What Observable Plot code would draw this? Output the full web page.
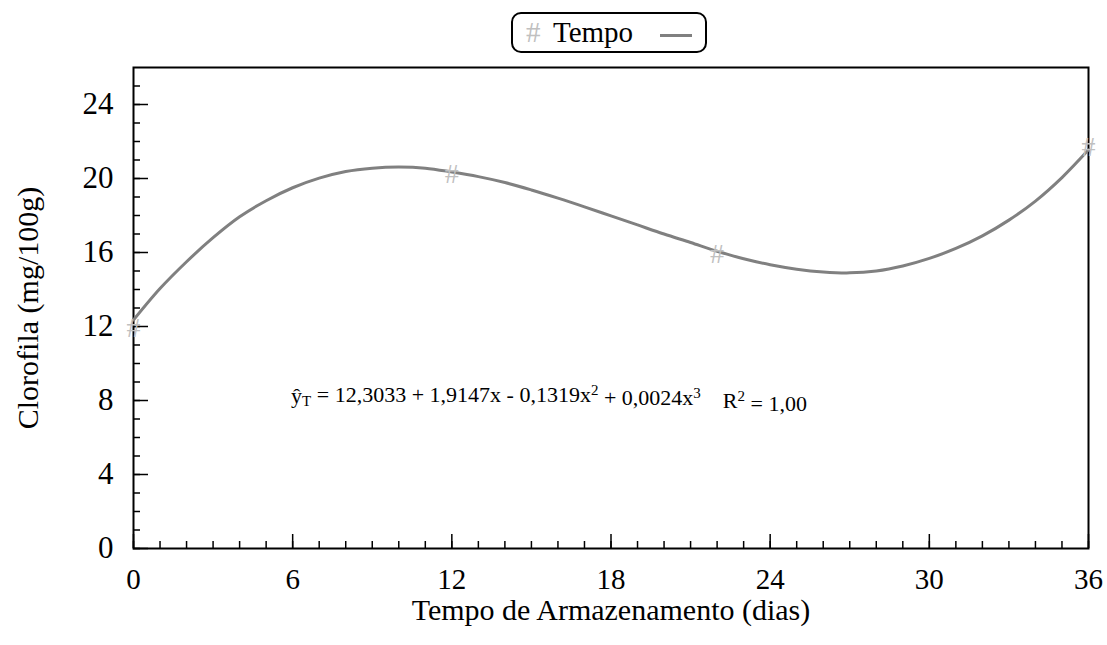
<!DOCTYPE html>
<html>
<head>
<meta charset="utf-8">
<script src="https://cdn.jsdelivr.net/npm/d3@7"></script>
<script src="https://cdn.jsdelivr.net/npm/@observablehq/plot@0.6"></script>
<style>
  html, body { margin: 0; padding: 0; background: #fff; }
  #wrap { position: relative; width: 1107px; height: 645px; font-family: "Liberation Serif", "Times New Roman", serif; }
  #legend {
    position: absolute; left: 511px; top: 12px; width: 192px; height: 37px;
    border: 2px solid #000; border-radius: 10px; box-sizing: content-box;
    font-size: 29px; line-height: 37px; white-space: nowrap;
  }
  #legend .sym { position: absolute; left: 13px; top: 0; color: #c0c0c0; }
  #legend .lbl { position: absolute; left: 40px; top: 0; color: #000; }
  #legend .ln { position: absolute; left: 147px; top: 20px; width: 32px; height: 3px; background: #808080; }
  .eq text { white-space: pre; }
</style>
</head>
<body>
<div id="wrap">
  <div id="chart"></div>
  <div id="legend"><span class="sym">#</span><span class="lbl">Tempo</span><span class="ln"></span></div>
</div>
<script>
// Storage time (days) and the fitted chlorophyll curve, mg/100g
const dias = [0,1,2,3,4,5,6,7,8,9,10,11,12,13,14,15,16,17,18,19,20,21,22,23,24,25,26,27,28,29,30,31,32,33,34,35,36];
const clorofilaAjuste = [12.35,14.05,15.5,16.8,17.93,18.8,19.5,20.02,20.38,20.56,20.62,20.56,20.35,20.1,19.78,19.38,18.94,18.47,17.98,17.49,17.0,16.54,16.07,15.66,15.34,15.1,14.95,14.9,15.0,15.27,15.68,16.22,16.9,17.75,18.78,20.05,21.55];

// Observed means
const diasObs = [0, 12, 22, 36];
const clorofilaObs = [11.9, 20.25, 15.9, 21.7];

// Axis ticks
const xTicks = [0, 6, 12, 18, 24, 30, 36];
const xMinor = d3.range(0, 37);
const yTicks = [0, 4, 8, 12, 16, 20, 24];
const yMinor = d3.range(0, 26);

const xTitle = "Tempo de Armazenamento (dias)";
const yTitle = "Clorofila (mg/100g)";
const equacao = "ŷT = 12,3033 + 1,9147x - 0,1319x2 + 0,0024x3    R2 = 1,00";

const serif = "'Liberation Serif', 'Times New Roman', serif";

const chart = Plot.plot({
  width: 1107,
  height: 645,
  marginTop: 67,
  marginRight: 19,
  marginBottom: 97,
  marginLeft: 133,
  style: {fontFamily: serif, fontSize: "30px", color: "#000", background: "#fff", overflow: "visible"},
  x: {domain: [0, 36]},
  y: {domain: [0, 26]},
  marks: [
    Plot.axisX(xMinor, {tickSize: -7, text: null, strokeWidth: 1.5}),
    Plot.axisX(xTicks, {tickSize: -14, text: null, strokeWidth: 1.5}),
    Plot.axisX(xTicks, {tickSize: 0, tickPadding: 20, label: null, fontSize: 29}),
    Plot.axisY(yMinor, {tickSize: -7, text: null, strokeWidth: 1.5}),
    Plot.axisY(yTicks, {tickSize: -15, text: null, strokeWidth: 1.5}),
    Plot.axisY(yTicks, {tickSize: 0, tickPadding: 20, label: null, fontSize: 31}),
    Plot.frame({stroke: "#000", strokeWidth: 2}),
    Plot.text([xTitle], {frameAnchor: "bottom", lineAnchor: "middle", dy: 62, fontSize: 30, textAnchor: "middle"}),
    Plot.text([yTitle], {frameAnchor: "left", dx: -105, rotate: -90, fontSize: 30, textAnchor: "middle"}),
    Plot.text([equacao], {frameAnchor: "middle", dx: -62, dy: 88, fontSize: 22, textAnchor: "middle", className: "eq"}),
    Plot.line(dias, {x: d => d, y: (d, i) => clorofilaAjuste[i], stroke: "#808080", strokeWidth: 3, curve: "catmull-rom"}),
    Plot.text(diasObs, {x: d => d, y: (d, i) => clorofilaObs[i], text: () => "#", fill: "#c0c0c0", fontSize: 28})
  ]
});

// Rich text for the regression equation: subscript T and superscript powers
const eqText = chart.querySelector(".eq text");
if (eqText) {
  const parts = [
    ["ŷ", 0], ["T", -1], [" = 12,3033 + 1,9147x - 0,1319x", 0], ["2", 1],
    [" + 0,0024x", 0], ["3", 1], ["    R", 0], ["2", 1], [" = 1,00", 0]
  ];
  const off = s => (s === 1 ? -0.45 : s === -1 ? 0.22 : 0);
  eqText.textContent = "";
  const ns = "http://www.w3.org/2000/svg";
  let prev = 0;
  for (const [s, shift] of parts) {
    const t = document.createElementNS(ns, "tspan");
    t.textContent = s;
    const dyEm = off(shift) - off(prev);
    if (dyEm !== 0) t.setAttribute("dy", dyEm + "em");
    if (shift !== 0) t.setAttribute("font-size", "15");
    eqText.appendChild(t);
    prev = shift;
  }
}

document.getElementById("chart").appendChild(chart);
</script>
</body>
</html>
